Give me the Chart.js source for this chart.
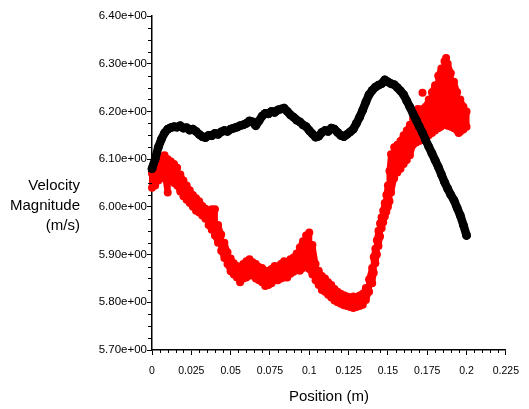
<!DOCTYPE html>
<html>
<head>
<meta charset="utf-8">
<script src="https://cdn.jsdelivr.net/npm/chart.js@4.4.1/dist/chart.umd.min.js"></script>
<style>
  html, body { margin: 0; padding: 0; background: #fff; }
  #wrap { width: 529px; height: 409px; }
</style>
</head>
<body>
<div id="wrap"><canvas id="velChart" width="529" height="409"></canvas></div>
<script>
// black series: one sample every 2 mm
const blackX = [
  0.000, 0.002, 0.004, 0.006, 0.008, 0.010, 0.012, 0.014, 0.016, 0.018,
  0.020, 0.022, 0.024, 0.026, 0.028, 0.030, 0.032, 0.034, 0.036, 0.038,
  0.040, 0.042, 0.044, 0.046, 0.048, 0.050, 0.052, 0.054, 0.056, 0.058,
  0.060, 0.062, 0.064, 0.066, 0.068, 0.070, 0.072, 0.074, 0.076, 0.078,
  0.080, 0.082, 0.084, 0.086, 0.088, 0.090, 0.092, 0.094, 0.096, 0.098,
  0.100, 0.102, 0.104, 0.106, 0.108, 0.110, 0.112, 0.114, 0.116, 0.118,
  0.120, 0.122, 0.124, 0.126, 0.128, 0.130, 0.132, 0.134, 0.136, 0.138,
  0.140, 0.142, 0.144, 0.146, 0.148, 0.150, 0.152, 0.154, 0.156, 0.158,
  0.160, 0.162, 0.164, 0.166, 0.168, 0.170, 0.172, 0.174, 0.176, 0.178,
  0.180, 0.182, 0.184, 0.186, 0.188, 0.190, 0.192, 0.194, 0.196, 0.198,
  0.200
];
const blackV = [
  6.080, 6.100, 6.125, 6.142, 6.155, 6.163, 6.166, 6.168, 6.167, 6.170,
  6.165, 6.166, 6.161, 6.163, 6.158, 6.152, 6.147, 6.145, 6.150, 6.149,
  6.154, 6.152, 6.157, 6.160, 6.158, 6.163, 6.165, 6.167, 6.170, 6.172,
  6.175, 6.180, 6.178, 6.170, 6.180, 6.190, 6.196, 6.195, 6.200, 6.198,
  6.203, 6.205, 6.207, 6.200, 6.193, 6.188, 6.182, 6.178, 6.172, 6.168,
  6.160, 6.153, 6.146, 6.148, 6.156, 6.160, 6.158, 6.165, 6.163, 6.156,
  6.150, 6.147, 6.152, 6.157, 6.163, 6.175, 6.188, 6.203, 6.220, 6.235,
  6.244, 6.251, 6.255, 6.258, 6.266, 6.262, 6.258, 6.256, 6.250, 6.243,
  6.235, 6.222, 6.209, 6.195, 6.182, 6.168, 6.155, 6.140, 6.126, 6.112,
  6.098, 6.084, 6.068, 6.052, 6.038, 6.025, 6.014, 5.998, 5.982, 5.962,
  5.940
];

// red series: upper and lower edge of the scatter cloud, read in zigzag order
const redX = [
  0.000, 0.000, 0.002, 0.002, 0.004, 0.004, 0.006, 0.006, 0.008, 0.008,
  0.010, 0.010, 0.012, 0.012, 0.014, 0.014, 0.016, 0.016, 0.018, 0.018,
  0.020, 0.020, 0.022, 0.022, 0.024, 0.024, 0.026, 0.026, 0.028, 0.028,
  0.030, 0.030, 0.032, 0.032, 0.034, 0.034, 0.036, 0.036, 0.038, 0.038,
  0.040, 0.040, 0.042, 0.042, 0.044, 0.044, 0.046, 0.046, 0.048, 0.048,
  0.050, 0.050, 0.052, 0.052, 0.054, 0.054, 0.056, 0.056, 0.058, 0.058,
  0.060, 0.060, 0.062, 0.062, 0.064, 0.064, 0.066, 0.066, 0.068, 0.068,
  0.070, 0.070, 0.072, 0.072, 0.074, 0.074, 0.076, 0.076, 0.078, 0.078,
  0.080, 0.080, 0.082, 0.082, 0.084, 0.084, 0.086, 0.086, 0.088, 0.088,
  0.090, 0.090, 0.092, 0.092, 0.094, 0.094, 0.096, 0.096, 0.098, 0.098,
  0.100, 0.100, 0.102, 0.102, 0.104, 0.104, 0.106, 0.106, 0.108, 0.108,
  0.110, 0.110, 0.112, 0.112, 0.114, 0.114, 0.116, 0.116, 0.118, 0.118,
  0.120, 0.120, 0.122, 0.122, 0.124, 0.124, 0.126, 0.126, 0.128, 0.128,
  0.130, 0.130, 0.132, 0.132, 0.134, 0.134, 0.136, 0.136, 0.138, 0.138,
  0.140, 0.140, 0.141, 0.141, 0.142, 0.142, 0.143, 0.143, 0.144, 0.144,
  0.145, 0.145, 0.146, 0.146, 0.147, 0.147, 0.148, 0.148, 0.149, 0.149,
  0.150, 0.150, 0.151, 0.151, 0.152, 0.152, 0.154, 0.154, 0.156, 0.156,
  0.158, 0.158, 0.160, 0.160, 0.162, 0.162, 0.164, 0.164, 0.166, 0.166,
  0.168, 0.168, 0.170, 0.170, 0.172, 0.172, 0.174, 0.174, 0.176, 0.176,
  0.178, 0.178, 0.180, 0.180, 0.182, 0.182, 0.184, 0.184, 0.186, 0.186,
  0.187, 0.187, 0.188, 0.188, 0.190, 0.190, 0.192, 0.192, 0.194, 0.194,
  0.196, 0.196, 0.198, 0.198, 0.200, 0.200
];
const redV = [
  6.070, 6.040, 6.045, 6.085, 6.095, 6.055, 6.060, 6.105, 6.108, 6.070,
  6.030, 6.100, 6.095, 6.055, 6.050, 6.090, 6.082, 6.045, 6.032, 6.068,
  6.055, 6.022, 6.015, 6.045, 6.035, 6.008, 6.000, 6.025, 6.018, 5.992,
  5.988, 6.012, 6.002, 5.982, 5.975, 5.996, 5.992, 5.962, 5.952, 5.995,
  5.995, 5.940, 5.925, 5.962, 5.942, 5.908, 5.893, 5.925, 5.905, 5.880,
  5.865, 5.892, 5.882, 5.858, 5.852, 5.876, 5.874, 5.842, 5.850, 5.880,
  5.886, 5.852, 5.856, 5.890, 5.884, 5.856, 5.850, 5.880, 5.874, 5.846,
  5.842, 5.872, 5.866, 5.834, 5.836, 5.866, 5.870, 5.840, 5.846, 5.876,
  5.874, 5.846, 5.850, 5.880, 5.886, 5.852, 5.852, 5.884, 5.890, 5.860,
  5.864, 5.894, 5.902, 5.868, 5.866, 5.915, 5.928, 5.872, 5.880, 5.940,
  5.946, 5.870, 5.858, 5.920, 5.880, 5.846, 5.836, 5.866, 5.855, 5.826,
  5.822, 5.850, 5.842, 5.816, 5.810, 5.836, 5.828, 5.804, 5.800, 5.822,
  5.818, 5.797, 5.794, 5.815, 5.812, 5.792, 5.790, 5.810, 5.812, 5.788,
  5.790, 5.810, 5.814, 5.792, 5.795, 5.818, 5.830, 5.805, 5.822, 5.848,
  5.872, 5.840, 5.862, 5.895, 5.912, 5.882, 5.900, 5.930, 5.950, 5.918,
  5.938, 5.965, 5.978, 5.955, 5.968, 5.992, 6.008, 5.980, 5.990, 6.025,
  6.045, 6.000, 6.012, 6.075, 6.110, 6.030, 6.060, 6.125, 6.130, 6.072,
  6.080, 6.138, 6.150, 6.090, 6.098, 6.160, 6.172, 6.108, 6.130, 6.185,
  6.192, 6.135, 6.138, 6.198, 6.205, 6.140, 6.145, 6.210, 6.225, 6.150,
  6.155, 6.240, 6.255, 6.160, 6.165, 6.275, 6.290, 6.170, 6.175, 6.305,
  6.312, 6.172, 6.170, 6.300, 6.280, 6.168, 6.165, 6.262, 6.240, 6.160,
  6.158, 6.225, 6.210, 6.162, 6.168, 6.200
];

// a few stray red dots outside the main cloud
const redStrayX = [0.169, 0.172, 0.1836, 0.195];
const redStrayV = [6.205, 6.239, 6.168, 6.155];

const xTicks = [0, 0.025, 0.05, 0.075, 0.1, 0.125, 0.15, 0.175, 0.2, 0.225];
const xTickLabels = ["0", "0.025", "0.05", "0.075", "0.1", "0.125", "0.15", "0.175", "0.2", "0.225"];
const yTicks = [5.7, 5.8, 5.9, 6.0, 6.1, 6.2, 6.3, 6.4];
const yTickLabels = ["5.70e+00", "5.80e+00", "5.90e+00", "6.00e+00", "6.10e+00", "6.20e+00", "6.30e+00", "6.40e+00"];

const toPoints = (xs, vs) => xs.map((x, i) => ({ x: x, y: vs[i] }));

const xTickFont = { family: "'Liberation Sans', Arial, sans-serif", size: 10.5 };
const yTickFont = { family: "'Liberation Sans', Arial, sans-serif", size: 11.5 };

// minor ticks + the two axis titles (the y one is horizontal, right aligned)
const axisExtras = {
  id: "axisExtras",
  afterDraw(chart) {
    const ctx = chart.ctx;
    const xs = chart.scales.x;
    const ys = chart.scales.y;
    const area = chart.chartArea;
    ctx.save();
    ctx.strokeStyle = "#000";
    ctx.lineWidth = 1;
    ctx.beginPath();
    for (let i = 1; i < 45; i++) {
      if (i % 5 === 0) continue;
      const px = Math.round(xs.getPixelForValue(i * 0.005)) + 0.5;
      ctx.moveTo(px, area.bottom);
      ctx.lineTo(px, area.bottom + 3);
    }
    for (let i = 1; i < 28; i++) {
      if (i % 4 === 0) continue;
      const py = Math.round(ys.getPixelForValue(5.7 + i * 0.025)) + 0.5;
      ctx.moveTo(area.left, py);
      ctx.lineTo(area.left - 4, py);
    }
    ctx.stroke();

    ctx.fillStyle = "#000";
    ctx.font = "15px 'Liberation Sans', Arial, sans-serif";
    ctx.textBaseline = "middle";
    ctx.textAlign = "right";
    ctx.fillText("Velocity", 80, 186);
    ctx.fillText("Magnitude", 80, 206);
    ctx.fillText("(m/s)", 80, 226);
    ctx.textAlign = "center";
    ctx.fillText("Position (m)", (area.left + area.right) / 2, 397);
    ctx.restore();
  }
};

new Chart(document.getElementById("velChart"), {
  type: "scatter",
  data: {
    datasets: [
      {
        data: toPoints(blackX, blackV),
        order: 1,
        showLine: true,
        borderColor: "#000",
        borderWidth: 8.5,
        borderJoinStyle: "round",
        borderCapStyle: "round",
        backgroundColor: "#000",
        pointRadius: 4.4,
        pointBorderWidth: 0,
        clip: false,
      },
      {
        data: toPoints(redX, redV),
        order: 2,
        showLine: true,
        borderColor: "#ff0000",
        borderWidth: 6,
        borderJoinStyle: "round",
        borderCapStyle: "round",
        backgroundColor: "#ff0000",
        pointRadius: 4,
        pointBorderWidth: 0,
        clip: false,
      },
      {
        data: toPoints(redStrayX, redStrayV),
        order: 2,
        backgroundColor: "#ff0000",
        pointRadius: 4,
        pointBorderWidth: 0,
        clip: false,
      },
    ],
  },
  options: {
    responsive: false,
    animation: false,
    layout: { padding: { top: 16, right: 14, left: 0, bottom: 0 } },
    plugins: {
      legend: { display: false },
      tooltip: { enabled: false },
    },
    scales: {
      x: {
        type: "linear",
        min: 0,
        max: 0.225,
        afterBuildTicks: (s) => { s.ticks = xTicks.map((v) => ({ value: v })); },
        afterFit: (s) => { s.height = 59; },
        ticks: {
          callback: (v, i) => xTickLabels[i],
          color: "#000",
          font: xTickFont,
          padding: 10,
          maxRotation: 0,
          autoSkip: false,
        },
        grid: { drawOnChartArea: false, drawTicks: true, tickLength: 5, color: "#000" },
        border: { display: true, color: "#000", width: 1.5 },
      },
      y: {
        type: "linear",
        min: 5.7,
        max: 6.4,
        afterBuildTicks: (s) => { s.ticks = yTicks.map((v) => ({ value: v })); },
        afterFit: (s) => { s.width = 152; },
        ticks: {
          callback: (v, i) => yTickLabels[i],
          color: "#000",
          font: yTickFont,
          padding: 0,
          autoSkip: false,
        },
        grid: { drawOnChartArea: false, drawTicks: true, tickLength: 5, color: "#000" },
        border: { display: true, color: "#000", width: 1.5 },
      },
    },
  },
  plugins: [axisExtras],
});
</script>
</body>
</html>
